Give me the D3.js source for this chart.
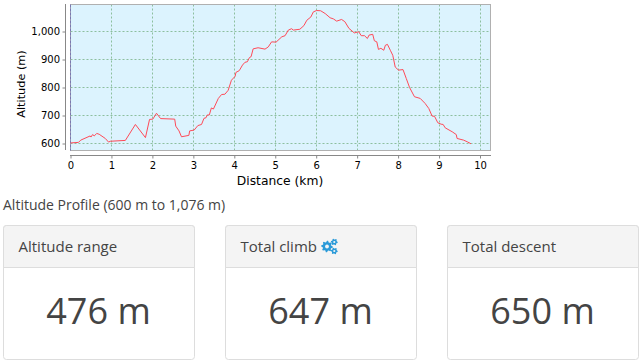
<!DOCTYPE html>
<html><head><meta charset="utf-8">
<script src="https://cdn.jsdelivr.net/npm/d3@7"></script>
<style>html,body{margin:0;padding:0;background:#fff}svg{display:block}</style>
</head><body><div id="c"></div>
<script>
const distance=[0,.195,.25,.48,.5,.54,.58,.64,.7,.85,.93,.97,1.34,1.585,1.83,1.93,2.01,2.1,2.2,2.545,2.57,2.65,2.71,2.89,2.91,3.02,3.11,3.2,3.26,3.31,3.34,3.39,3.44,3.49,3.61,3.69,3.77,3.85,3.93,4.02,4.04,4.12,4.2,4.26,4.32,4.37,4.41,4.46,4.58,4.75,4.83,4.91,5.02,5.16,5.24,5.32,5.4,5.44,5.6,5.7,5.77,5.87,5.93,6.01,6.11,6.22,6.34,6.42,6.5,6.62,6.7,6.8,6.93,7.04,7.1,7.18,7.25,7.29,7.38,7.42,7.48,7.52,7.58,7.65,7.69,7.74,7.81,7.87,7.93,8.01,8.12,8.2,8.28,8.4,8.54,8.66,8.75,8.83,8.89,8.97,9.05,9.1,9.15,9.32,9.42,9.44,9.6,9.69,9.78];
const altitude=[602,604,612,627,623,632,627,636,633,618,605,608,611,668,621,686,687,708,689,687,662,645,624,629,645,648,664,668,690,692,702,702,727,723,761,775,776,790,826,840,854,860,880,890,892,907,910,938,942,937,945,963,962,981,985,1005,1010,1005,1008,1021,1040,1052,1070,1075,1074,1064,1049,1045,1037,1043,1035,1011,995,999,985,985,975,987,990,967,963,936,940,933,951,954,933,915,873,862,864,832,800,767,761,743,725,698,697,674,669,668,656,642,632,618,612,606,599];
const xTicks=[0,1,2,3,4,5,6,7,8,9,10];
const yTicks=[600,700,800,900,1000];
const cardTitles=["Altitude range","Total climb","Total descent"];
const cardValues=["476 m","647 m","650 m"];
const caption="Altitude Profile (600 m to 1,076 m)";

const W=642,H=363;
const svg=d3.select("#c").append("svg").attr("width",W).attr("height",H);
const L=70.5,R=490.5,T=4.5,B=150.5;
const x=d3.scaleLinear().domain([0,10]).range([70.5,480]);
const y=d3.scaleLinear().domain([600,1000]).range([143.5,31.5]);
const dejavu="'DejaVu Sans',sans-serif", open="'Open Sans',sans-serif";

svg.append("rect").attr("x",L).attr("y",T).attr("width",R-L).attr("height",B-T).attr("fill","#dcf3fe");
const grid=svg.append("g").attr("stroke","#8dbf9f").attr("stroke-dasharray","2,2").attr("stroke-width",1);
grid.selectAll(".v").data(xTicks.slice(1)).join("line").attr("x1",d=>Math.round(x(d))+.5).attr("x2",d=>Math.round(x(d))+.5).attr("y1",T).attr("y2",B);
grid.selectAll(".h").data(yTicks).join("line").attr("y1",d=>y(d)).attr("y2",d=>y(d)).attr("x1",L).attr("x2",R);
svg.append("rect").attr("x",L).attr("y",T).attr("width",R-L).attr("height",B-T).attr("fill","none").attr("stroke","#b0b0b0");
svg.append("line").attr("x1",L).attr("x2",L).attr("y1",T).attr("y2",B).attr("stroke","#7a78b0").attr("stroke-dasharray","3,1");

const line=d3.line().x((d,i)=>x(distance[i])).y(d=>y(d));
svg.append("path").attr("d",line(altitude)).attr("fill","none").attr("stroke","#ff4a58").attr("stroke-width",1);

const ax=svg.append("g").attr("transform","translate(0,155.5)").call(d3.axisBottom(x).tickValues(xTicks).tickSize(3).tickPadding(3).tickFormat(d3.format("d")));
ax.selectAll("text").attr("font-family",dejavu).attr("font-size",10).attr("fill","#000");
ax.selectAll("line,path").attr("stroke","#888");
ax.select(".domain").attr("d","M70,0H491");
const ay=svg.append("g").attr("transform","translate(65.5,0)").call(d3.axisLeft(y).tickValues(yTicks).tickSize(3).tickPadding(2.5).tickFormat(d3.format(",")));
ay.selectAll("text").attr("font-family",dejavu).attr("font-size",10).attr("fill","#000");
ay.selectAll("line,path").attr("stroke","#888");
ay.select(".domain").attr("d","M0,4V150");

svg.append("text").attr("x",280).attr("y",185).attr("text-anchor","middle").attr("font-family",dejavu).attr("font-size",12.3).text("Distance (km)");
svg.append("text").attr("transform","translate(25,84) rotate(-90)").attr("text-anchor","middle").attr("font-family",dejavu).attr("font-size",11.3).text("Altitude (m)");
svg.append("text").attr("x",3).attr("y",210).attr("font-family",open).attr("font-size",14).attr("fill","#444").text(caption);

const cardX=[3.5,225.5,447.5];
cardX.forEach((cx,i)=>{
  const g=svg.append("g").attr("transform",`translate(${cx},225.5)`);
  g.append("rect").attr("width",191).attr("height",134).attr("rx",3).attr("fill","#fff").attr("stroke","#ddd");
  g.append("path").attr("d","M0,42V3a3,3 0 0 1 3,-3H188a3,3 0 0 1 3,3V42Z").attr("fill","#f4f4f4").attr("stroke","#ddd");
  g.append("text").attr("x",15).attr("y",26.5).attr("font-family",open).attr("font-size",15).attr("fill","#444").text(cardTitles[i]);
  g.append("text").attr("x",95).attr("y",98).attr("text-anchor","middle").attr("font-family",open).attr("font-size",36).attr("fill","#444").text(cardValues[i]);
});

function gear(cx,cy,r,teeth){
  const pts=[];const n=teeth*4;
  for(let k=0;k<n;k++){const a=k/n*2*Math.PI;const rr=(k%4<2)?r:r*.76;pts.push([cx+rr*Math.cos(a),cy+rr*Math.sin(a)]);}
  return "M"+pts.map(p=>p.join(",")).join("L")+"Z";
}
const ic=svg.append("g").attr("fill","#2a9ad8");
ic.append("path").attr("d",gear(327,246.5,5.8,8));
ic.append("circle").attr("cx",327).attr("cy",246.5).attr("r",1.9).attr("fill","#f4f4f4");
[[334.3,242],[334.3,251]].forEach(p=>{ic.append("path").attr("d",gear(p[0],p[1],3.4,6));ic.append("circle").attr("cx",p[0]).attr("cy",p[1]).attr("r",1.1).attr("fill","#f4f4f4");});
</script></body></html>
